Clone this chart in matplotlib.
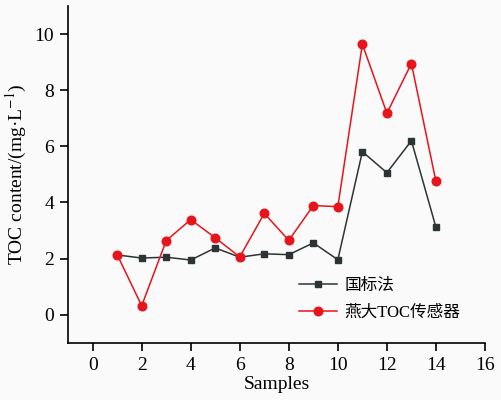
import matplotlib
matplotlib.use('Agg')
import matplotlib.pyplot as plt

# sample numbers and TOC readings (mg/L)
samples = [1, 2, 3, 4, 5, 6, 7, 8, 9, 10, 11, 12, 13, 14]
toc_standard = [2.13, 2.02, 2.05, 1.95, 2.38, 2.05, 2.17, 2.14, 2.56, 1.96, 5.81, 5.06, 6.20, 3.12]
toc_sensor = [2.14, 0.32, 2.64, 3.39, 2.74, 2.06, 3.61, 2.65, 3.89, 3.85, 9.64, 7.18, 8.95, 4.75]
series_names = ['国标法', '燕大TOC传感器']

plt.rcParams['font.family'] = ['Liberation Serif', 'Noto Sans CJK SC']
plt.rcParams['mathtext.fontset'] = 'stix'

fig = plt.figure(figsize=(5.01, 4.0), dpi=100, facecolor='#fafafa')
ax = fig.add_axes([0.136, 0.143, 0.832, 0.842])
ax.set_facecolor('#fafafa')

ax.plot(samples, toc_standard, '-s', color='#2d3436', markersize=5, linewidth=1.1,
        label=series_names[0])
ax.plot(samples, toc_sensor, '-o', color='#e8141c', markersize=6.2, linewidth=1.1,
        label=series_names[1])

ax.set_xlim(-1, 16)
ax.set_ylim(-1, 11)
ax.set_xticks(range(0, 17, 2))
ax.set_yticks(range(0, 11, 2))
ax.spines['top'].set_visible(False)
ax.spines['right'].set_visible(False)
for s in ['left', 'bottom']:
    ax.spines[s].set_linewidth(1.2)
ax.tick_params(direction='out', length=6, width=1.2, labelsize=14, pad=4)

ax.set_xlabel('Samples', fontsize=14, labelpad=2)
ax.set_ylabel('TOC content/(mg·L$^{-1}$)', fontsize=14, labelpad=4)

ax.legend(loc='lower left', bbox_to_anchor=(0.518, 0.022), frameon=False, fontsize=12,
          handlelength=2.3, handletextpad=0.4, labelspacing=0.65)

fig.savefig('out.png', dpi=100, facecolor=fig.get_facecolor())
